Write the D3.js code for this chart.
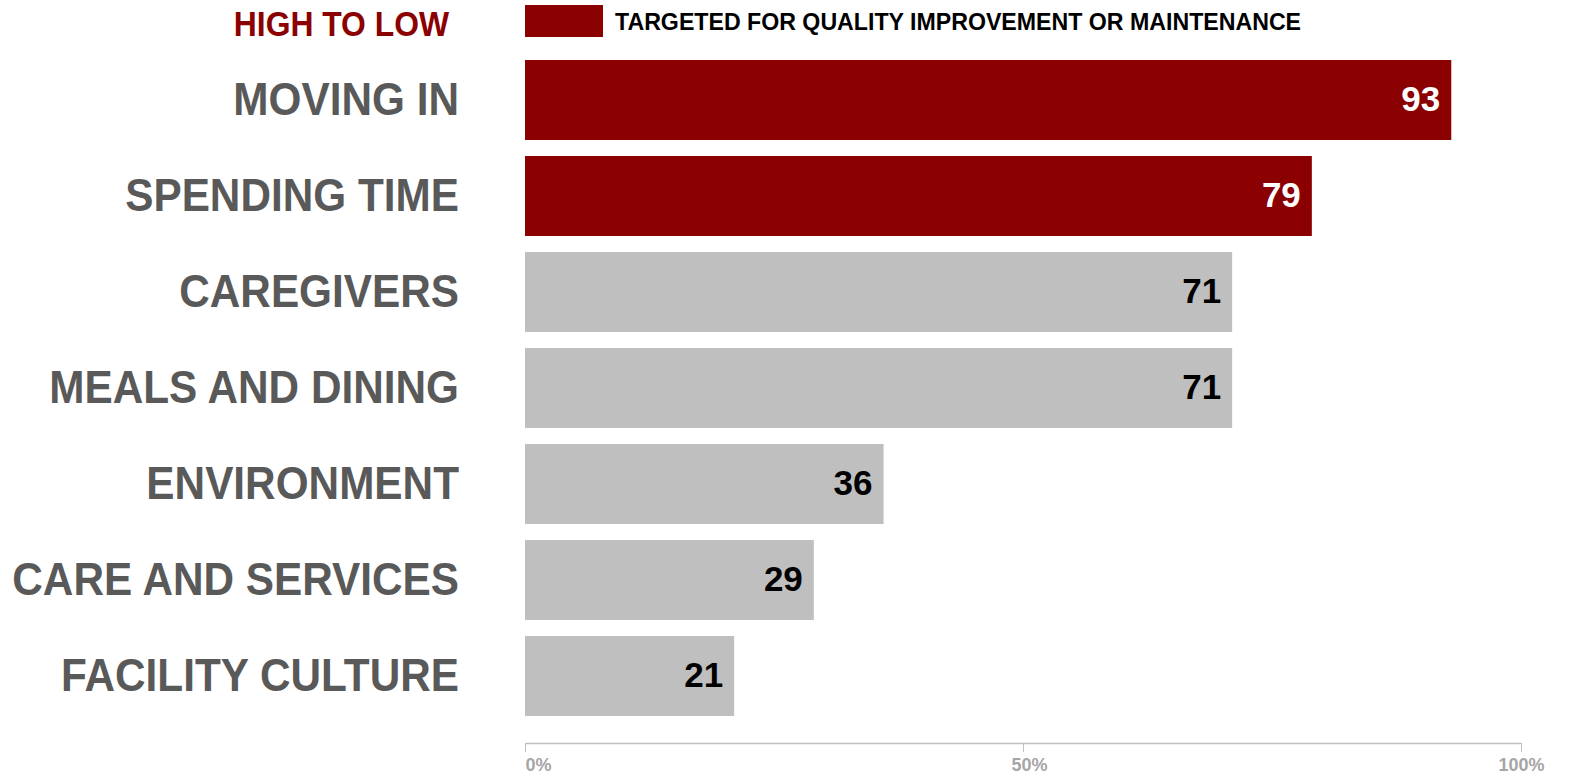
<!DOCTYPE html>
<html><head><meta charset="utf-8">
<script src="https://cdn.jsdelivr.net/npm/d3@7"></script>
<style>
html,body{margin:0;padding:0;background:#fff;}
svg{display:block;}
</style></head>
<body>
<svg id="chart" width="1573" height="776"></svg>
<script>
const categories = ["MOVING IN","SPENDING TIME","CAREGIVERS","MEALS AND DINING","ENVIRONMENT","CARE AND SERVICES","FACILITY CULTURE"];
const values = [93, 79, 71, 71, 36, 29, 21];
const targeted = [true, true, false, false, false, false, false];
const tickValues = [0, 50, 100];
const tickLabels = ["0%", "50%", "100%"];
const titleText = "HIGH TO LOW";
const legendText = "TARGETED FOR QUALITY IMPROVEMENT OR MAINTENANCE";

const RED = "#8B0000", GRAY = "#BFBFBF", LABEL = "#595959";
const font = "'Liberation Sans',Arial,Helvetica,sans-serif";

const svg = d3.select("#chart");
const x = d3.scaleLinear().domain([0, 100]).range([525, 1521]);
const y = d3.scaleBand().domain(categories).range([52, 724]).paddingInner(1/6).paddingOuter(1/12);

// title
svg.append("text").attr("transform", "translate(449,36) scale(0.91,1)").attr("text-anchor", "end")
  .style("font-family", font).style("font-weight", "bold").style("font-size", "35px")
  .attr("fill", RED).text(titleText);

// legend
svg.append("rect").attr("x", 525).attr("y", 5).attr("width", 78).attr("height", 32).attr("fill", RED);
svg.append("text").attr("transform", "translate(615,30) scale(0.965,1)")
  .style("font-family", font).style("font-weight", "bold").style("font-size", "24px")
  .attr("fill", "#000").text(legendText);

// bars
svg.selectAll("rect.bar").data(categories).join("rect").attr("class", "bar")
  .attr("x", x(0)).attr("y", d => y(d))
  .attr("width", (d, i) => x(values[i]) - x(0)).attr("height", y.bandwidth())
  .attr("fill", (d, i) => targeted[i] ? RED : GRAY);

// value labels
svg.selectAll("text.val").data(categories).join("text").attr("class", "val")
  .attr("x", (d, i) => x(values[i]) - 11)
  .attr("y", d => y(d) + y.bandwidth() / 2 + 11)
  .attr("text-anchor", "end")
  .style("font-family", font).style("font-weight", "bold").style("font-size", "35px")
  .attr("fill", (d, i) => targeted[i] ? "#fff" : "#000")
  .text((d, i) => values[i]);

// category labels
svg.selectAll("text.cat").data(categories).join("text").attr("class", "cat")
  .attr("transform", d => `translate(459,${y(d) + y.bandwidth() / 2 + 15}) scale(0.92,1)`)
  .attr("text-anchor", "end")
  .style("font-family", font).style("font-weight", "bold").style("font-size", "46px")
  .attr("fill", LABEL).text(d => d);

// axis
const axis = d3.axisBottom(x).tickValues(tickValues).tickSize(9).tickSizeOuter(0)
  .tickFormat((d, i) => tickLabels[i]);
const g = svg.append("g").attr("transform", "translate(0,743)").call(axis);
g.select(".domain").attr("stroke", GRAY).attr("stroke-width", 1.5);
g.selectAll(".tick line").attr("stroke", GRAY);
g.selectAll(".tick text")
  .style("font-family", font).style("font-weight", "bold").style("font-size", "18px")
  .attr("fill", "#A6A6A6").attr("y", 28).attr("dy", 0)
  .attr("text-anchor", (d, i) => i === 0 ? "start" : "middle")
  .attr("dx", (d, i) => i === 1 ? 6 : 0);
</script>
</body></html>
